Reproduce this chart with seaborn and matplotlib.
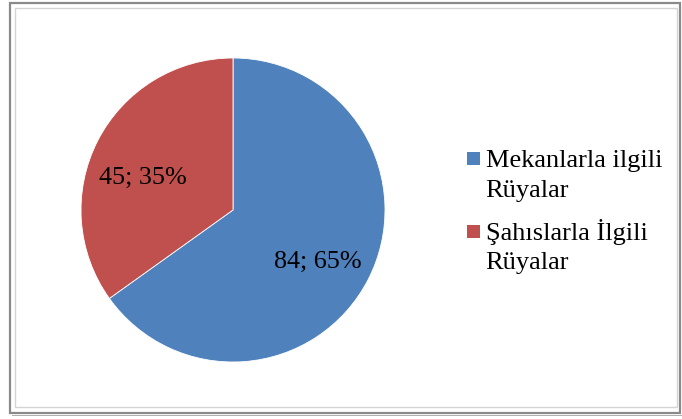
import matplotlib
matplotlib.use("Agg")
import matplotlib.pyplot as plt
import seaborn as sns
from matplotlib.patches import Rectangle

# data
categories = ["Mekanlarla ilgili\nRüyalar", "Şahıslarla İlgili\nRüyalar"]
counts = [84, 45]
colors = ["#4F81BD", "#C0504D"]

sns.set_theme(style="white")
plt.rcParams["font.family"] = ["Liberation Serif", "DejaVu Serif"]

W, H = 682, 419
fig = plt.figure(figsize=(W / 100, H / 100), dpi=100)
fig.patch.set_facecolor("white")

def fx(px):
    return px / W

def fy(py):
    return 1 - py / H

# outer frame with a bit of shadow
fig.patches.append(Rectangle((fx(10), fy(413)), fx(670), 410 / H, transform=fig.transFigure,
                             fill=False, edgecolor="#8a8a8a", lw=1.6))
fig.patches.append(Rectangle((fx(15), fy(407)), fx(662), 399 / H, transform=fig.transFigure,
                             fill=False, edgecolor="#d4d4d4", lw=1.0))
fig.patches.append(Rectangle((fx(12), fy(416)), fx(670), 1.5 / H, transform=fig.transFigure,
                             facecolor="#b0b0b0", edgecolor="none"))

# pie: centre ~ (233, 210), radius ~ 152 px
cx, cy, r = 233, 210, 152
ax = fig.add_axes([fx(cx - r), fy(cy + r), 2 * r / W, 2 * r / H])
total = sum(counts)
wedges, texts = ax.pie(counts, colors=colors, startangle=90, counterclock=False,
                       wedgeprops=dict(edgecolor="white", linewidth=0.6))
ax.set_xlim(-1, 1)
ax.set_ylim(-1, 1)
ax.set_aspect("equal")
ax.axis("off")

label_pos = [(0.56, -0.34), (-0.595, 0.21)]
for n, (lx, ly) in zip(counts, label_pos):
    pct = round(n / total * 100)
    ax.text(lx, ly, f"{n}; {pct}%", ha="center", va="center", fontsize=18.8, color="black")

# legend drawn by hand so the square sits on the first line
leg_base = [(167, 197), (240, 269)]
for lab, col, (b1, b2) in zip(categories, colors, leg_base):
    fig.patches.append(Rectangle((fx(467), fy(b1 - 2)), 13 / W, 13 / H, transform=fig.transFigure,
                                 facecolor=col, edgecolor="none"))
    for line, by in zip(lab.split("\n"), (b1, b2)):
        fig.text(fx(485.5), fy(by), line, ha="left", va="baseline", fontsize=19, color="black")

fig.savefig("out.png", dpi=100)
